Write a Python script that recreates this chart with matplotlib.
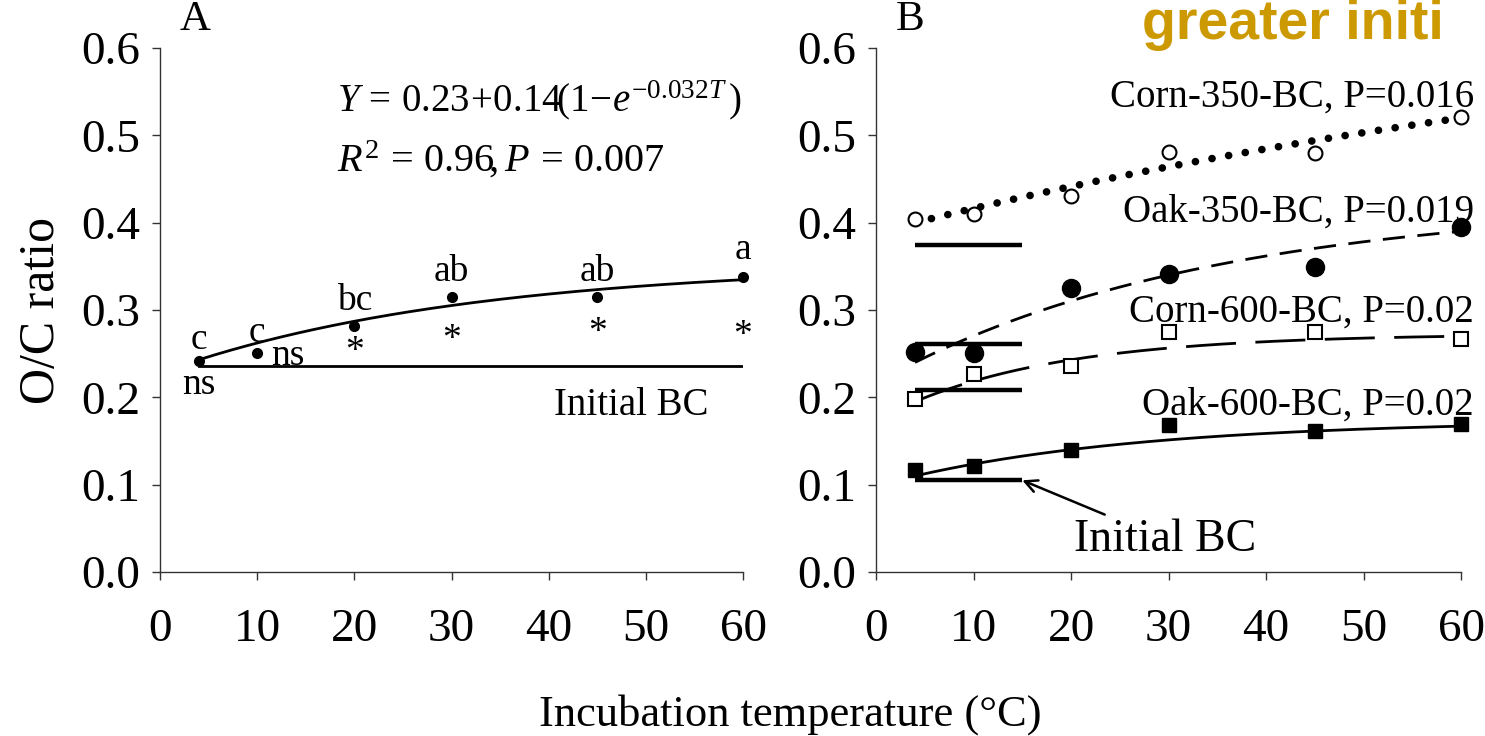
import numpy as np
import matplotlib
matplotlib.use("Agg")
import matplotlib.pyplot as plt

plt.rcParams['font.family'] = ['Liberation Serif', 'DejaVu Serif']
plt.rcParams['mathtext.fontset'] = 'custom'
plt.rcParams['mathtext.rm'] = 'Liberation Serif'
plt.rcParams['mathtext.it'] = 'Liberation Serif:italic'
plt.rcParams['mathtext.bf'] = 'Liberation Serif:bold'

# ---------------- data ----------------
temps = [4, 10, 20, 30, 45, 60]

# Panel A
oc_a = [0.242, 0.251, 0.282, 0.315, 0.315, 0.338]
initial_a = 0.236
fit_a = (0.228, 0.125, 0.032)          # a, b, k  for a + b(1-exp(-kT))
letters_a = ['c', 'c', 'bc', 'ab', 'ab', 'a']
letters_a_y = [0.266, 0.274, 0.311, 0.344, 0.344, 0.369]
star_t = [20, 30, 45, 60]
star_y = [0.252, 0.266, 0.274, 0.271]

# Panel B
corn350 = [0.404, 0.410, 0.430, 0.481, 0.480, 0.521]
oak350 = [0.252, 0.251, 0.325, 0.341, 0.349, 0.395]
corn600 = [0.198, 0.227, 0.236, 0.275, 0.275, 0.267]
oak600 = [0.117, 0.121, 0.140, 0.168, 0.161, 0.169]
fit_corn350 = (0.3886, 0.291, 0.010)
fit_oak350 = (0.2165, 0.208, 0.030)
fit_corn600 = (0.174, 0.0987, 0.060)
fit_oak600 = (0.0989, 0.0749, 0.040)
initial_b = [0.375, 0.261, 0.208, 0.105]
initial_b_span = (4, 15)
labels_b = ['Corn-350-BC, P=0.016', 'Oak-350-BC, P=0.019',
            'Corn-600-BC, P=0.02', 'Oak-600-BC, P=0.02']
labels_b_y = [0.544, 0.412, 0.297, 0.191]

xticks = [0, 10, 20, 30, 40, 50, 60]
yticks = [0.0, 0.1, 0.2, 0.3, 0.4, 0.5, 0.6]


def fitcurve(p, t):
    a, b, k = p
    return a + b * (1 - np.exp(-k * t))


W, H = 1485, 736
fig = plt.figure(figsize=(W / 100, H / 100), dpi=100)
axA = fig.add_axes([160 / W, 1 - 572 / H, (743 - 160) / W, (572 - 48) / H])
axB = fig.add_axes([876 / W, 1 - 572 / H, (1461 - 876) / W, (572 - 48) / H])

for ax in (axA, axB):
    ax.set_xlim(0, 60)
    ax.set_ylim(0, 0.6)
    ax.set_xticks(xticks)
    ax.set_yticks(yticks)
    ax.set_yticklabels([f"{v:.1f}" for v in yticks])
    ax.spines['top'].set_visible(False)
    ax.spines['right'].set_visible(False)
    for s in ('left', 'bottom'):
        ax.spines[s].set_linewidth(1.0)
        ax.spines[s].set_color('#333333')
    ax.tick_params(direction='out', length=6, width=1.0, labelsize=34,
                   colors='#333333', labelcolor='black', pad=8)
    ax.tick_params(axis='x', pad=20)

tt = np.linspace(4, 60, 200)

# ---------------- Panel A ----------------
axA.plot([temps[0], temps[-1]], [initial_a, initial_a], color='black', lw=2)
axA.plot(tt, fitcurve(fit_a, tt), color='black', lw=2)
axA.plot(temps, oc_a, 'o', color='black', ms=7, zorder=3, clip_on=False)
for t, l, y in zip(temps, letters_a, letters_a_y):
    axA.text(t, y, l, ha='center', va='center', fontsize=27)
for t, y in zip(star_t, star_y):
    axA.text(t, y, '*', ha='center', va='center', fontsize=27)
axA.text(4, 0.214, 'ns', ha='center', va='center', fontsize=27)
axA.text(13.2, 0.248, 'ns', ha='center', va='center', fontsize=27)
axA.text(18.2, 0.540,
         r'$Y\,=\,0.23\!+\!0.14\!(1\!-\!e^{-0.032T}\,)$',
         ha='left', va='center', fontsize=28)
axA.text(18.2, 0.472, r'$R^2\,=\,0.96\!,P\,=\,0.007$', ha='left',
         va='center', fontsize=29)
axA.text(40.6, 0.191, 'Initial BC', ha='left', va='center', fontsize=28)
axA.text(3.6, 0.632, 'A', ha='center', va='center', fontsize=31,
         clip_on=False)
axA.set_ylabel('O/C ratio', fontsize=36, labelpad=12)

# ---------------- Panel B ----------------
for y in initial_b:
    axB.plot(initial_b_span, [y, y], color='black', lw=3.2,
             solid_capstyle='butt')

axB.plot(tt, fitcurve(fit_corn350, tt), color='black', lw=5.5,
         linestyle=(0, (0.01, 2.2)), dash_capstyle='round')
axB.plot(tt, fitcurve(fit_oak350, tt), color='black', lw=2,
         linestyle=(0, (8, 4.5)))
axB.plot(tt, fitcurve(fit_corn600, tt), color='black', lw=2,
         linestyle=(0, (18, 7)))
axB.plot(tt, fitcurve(fit_oak600, tt), color='black', lw=2)

axB.plot(temps, corn350, 'o', mfc='white', mec='black', mew=1.5, ms=10,
         zorder=3, clip_on=False)
axB.plot(temps, oak350, 'o', color='black', ms=13, zorder=3, clip_on=False)
axB.plot(temps, corn600, 's', mfc='white', mec='black', mew=1.5, ms=10,
         zorder=3, clip_on=False)
axB.plot(temps, oak600, 's', color='black', ms=10, zorder=3, clip_on=False)

for l, y in zip(labels_b, labels_b_y):
    axB.text(61.3, y, l, ha='right', va='center', fontsize=28, clip_on=False)

axB.annotate('Initial BC', xy=(15, initial_b[3]), xytext=(20.3, 0.037),
             fontsize=33, ha='left', va='center',
             arrowprops=dict(arrowstyle='->', color='black', lw=1.8,
                             mutation_scale=22, shrinkA=2, shrinkB=0))
axB.text(3.5, 0.632, 'B', ha='center', va='center', fontsize=31,
         clip_on=False)

fig.text(790 / W, 1 - 715 / H, 'Incubation temperature (°C)', ha='center',
         va='center', fontsize=32)

fig.text(1142 / W, 1 - 39 / H, 'greater initi', ha='left', va='baseline',
         fontsize=40, fontweight='bold', color='#CC9900',
         family=['Liberation Sans', 'DejaVu Sans'])

fig.savefig('out.png', dpi=100)
